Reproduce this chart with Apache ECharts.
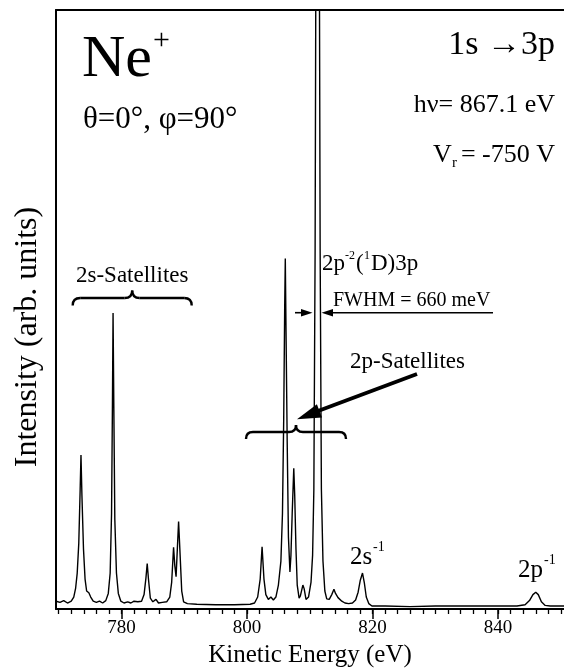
<!DOCTYPE html>
<html>
<head>
<meta charset="utf-8">
<script src="https://cdn.jsdelivr.net/npm/echarts@6/dist/echarts.min.js"></script>
<style>
html, body { margin: 0; padding: 0; background: #fff; }
#chart { width: 564px; height: 669px; }
</style>
</head>
<body>
<div id="chart"></div>
<script>
// spectrum: kinetic energy (eV) / intensity (arb. units, 0..100 = plot height)
const energy = [
    769.6, 770.2, 770.8, 771.4, 772.0, 772.4, 772.7, 772.95, 773.2, 773.42, 773.55, 773.7, 773.95, 774.2, 774.45,
    774.8, 775.1, 775.5, 776.0, 776.5, 777.0, 777.5, 777.9, 778.2, 778.42, 778.56, 778.66, 778.78, 778.94, 779.2,
    779.5, 779.9, 780.4, 781.0, 781.5, 782.0, 782.3, 782.6, 783.2, 783.6, 783.9, 784.1, 784.3, 784.6, 785.0,
    785.5, 785.9, 786.5, 787.2, 787.7, 788.0, 788.3, 788.5, 788.7, 788.9, 789.1, 789.3, 789.6, 789.9, 790.5,
    792, 795, 798, 800.5, 801.2, 801.7, 802.1, 802.4, 802.7, 803.0, 803.4, 803.8, 804.2, 804.6, 805.0,
    805.4, 805.65, 805.85, 806.0, 806.1, 806.22, 806.4, 806.6, 806.84, 807.0, 807.2, 807.45, 807.6, 807.8, 808.0,
    808.3, 808.5, 808.9, 809.1, 809.4, 809.8, 810.2, 810.45, 810.65, 810.85, 811.0, 811.25, 811.5, 811.65, 811.85,
    812.1, 812.4, 812.7, 813.1, 813.5, 813.85, 814.1, 814.5, 815.1, 815.6, 816.2, 816.8, 817.3, 817.7, 818.05,
    818.4, 818.7, 819.0, 819.4, 819.9, 822, 826, 830, 835, 840, 843, 844.3, 845.0, 845.55, 846.0,
    846.4, 846.9, 847.5, 848.3, 850.5
];
const intensity = [
    1.3, 1.1, 1.4, 1.0, 1.3, 2.0, 3.5, 6, 11, 20, 25.7, 19, 10, 5, 3,
    2.7, 2.0, 1.3, 1.1, 1.3, 1.0, 1.4, 2.6, 6, 16, 34, 49.4, 34, 15, 6,
    2.6, 1.3, 1.0, 1.2, 1.0, 1.3, 1.6, 1.2, 1.3, 2.4, 5.2, 7.6, 5.0, 1.8, 1.2,
    1.6, 1.0, 1.1, 1.2, 2.0, 4.5, 10.3, 7.2, 5.4, 10, 14.6, 10, 3, 1.2, 0.9,
    0.8, 0.7, 0.7, 0.8, 1.0, 2.0, 5, 10.4, 5, 2.4, 1.6, 2.0, 1.5, 2.0, 4.0,
    8, 16, 32, 50, 58.5, 46, 28, 12, 6.2, 9, 16, 23.5, 19, 10, 4,
    1.8, 2.2, 4.0, 3.4, 1.6, 2.0, 4.5, 9, 20, 60, 120, 300, 120, 60, 20,
    8, 3, 1.7, 1.6, 2.4, 3.3, 2.6, 1.9, 1.3, 1.0, 0.9, 1.0, 1.5, 2.8, 4.8,
    6.0, 4.3, 2.0, 0.9, 0.5, 0.5, 0.4, 0.5, 0.5, 0.5, 0.5, 0.7, 1.4, 2.4, 2.8,
    2.4, 1.2, 0.6, 0.5, 0.5
];

const xMin = 769.57;
const xMax = 850.5;
const majorTicks = [780, 800, 820, 840];
const minorTicks = [
    770, 772, 774, 776, 778, 780, 782, 784, 786, 788, 790, 792, 794, 796, 798, 800, 802, 804, 806, 808, 810,
    812, 814, 816, 818, 820, 822, 824, 826, 828, 830, 832, 834, 836, 838, 840, 842, 844, 846, 848, 850
];

const serif = '"Liberation Serif", "DejaVu Serif", serif';

// 文字标注
function txt(x, y, text, size, align) {
    return {
        type: 'text', x: x, y: y, z: 10,
        style: {
            text: text, font: size + 'px ' + serif, fill: '#000',
            textAlign: align || 'left', align: align || 'left',
            textVerticalAlign: 'middle', verticalAlign: 'middle'
        }
    };
}

function seg(x1, y1, x2, y2, w) {
    return {
        type: 'line', z: 10,
        shape: { x1: x1, y1: y1, x2: x2, y2: y2 },
        style: { stroke: '#000', lineWidth: w }
    };
}

function curve(x1, y1, cx, cy, x2, y2, w) {
    return {
        type: 'bezierCurve', z: 10,
        shape: { x1: x1, y1: y1, cpx1: cx, cpy1: cy, x2: x2, y2: y2 },
        style: { stroke: '#000', lineWidth: w, fill: null }
    };
}

// horizontal curly brace, tip pointing up
function brace(x0, x1, y, h) {
    const cx = (x0 + x1) / 2;
    const w = 2.4;
    return [
        curve(x0, y + h, x0, y, x0 + h, y, w),
        seg(x0 + h, y, cx - h, y, w),
        curve(cx - h, y, cx, y, cx, y - h, w),
        curve(cx, y - h, cx, y, cx + h, y, w),
        seg(cx + h, y, x1 - h, y, w),
        curve(x1 - h, y, x1, y, x1, y + h, w)
    ];
}

function tri(points) {
    return { type: 'polygon', z: 10, shape: { points: points }, style: { fill: '#000' } };
}

const graphics = [
    txt(82, 60, 'Ne', 60),
    txt(153, 41, '+', 30),
    txt(83, 120, 'θ=0°, φ=90°', 31),
    txt(555, 45, '1s →3p', 34, 'right'),
    txt(555, 105, 'hν= 867.1 eV', 26, 'right'),
    txt(433, 155, 'V', 26),
    txt(452, 163, 'r', 15),
    txt(555, 155, '= -750 V', 26, 'right'),

    txt(76, 276, '2s-Satellites', 23),

    txt(322, 264, '2p', 23),
    txt(345, 256, '-2', 12),
    txt(356, 264, '(', 23),
    txt(364, 256, '1', 12),
    txt(371, 264, 'D)3p', 23),

    txt(333, 301, 'FWHM = 660 meV', 20),
    seg(295, 312.7, 305, 312.7, 1.6),
    tri([[312.5, 312.7], [301, 309], [301, 316.4]]),
    seg(493, 312.7, 330, 312.7, 1.6),
    tri([[321.5, 312.7], [333, 309], [333, 316.4]]),

    txt(350, 362, '2p-Satellites', 23),
    seg(417, 374, 318, 411, 4),
    tri([[297, 419.3], [322, 417.4], [316.9, 404.3]]),

    txt(350, 557, '2s', 25),
    txt(373, 547, '-1', 14),
    txt(518, 570, '2p', 25),
    txt(544, 560, '-1', 14),

    {
        type: 'text', x: 28, y: 337, rotation: Math.PI / 2, z: 10,
        style: {
            text: 'Intensity (arb. units)', font: '32px ' + serif, fill: '#000',
            textAlign: 'center', align: 'center', textVerticalAlign: 'middle', verticalAlign: 'middle'
        }
    }
].concat(brace(72.7, 191.7, 298, 7.5), brace(246, 346, 432, 7));

function init() {
    const chart = echarts.init(document.getElementById('chart'));
    const points = energy.map(function (e, i) { return [e, intensity[i]]; });

    chart.setOption({
        animation: false,
        backgroundColor: '#fff',
        grid: { left: 56, right: 0, top: 10, bottom: 60, containLabel: false, outerBoundsMode: 'none' },
        xAxis: [
            {
                type: 'value', min: xMin, max: xMax, position: 'bottom',
                axisLine: { show: true, lineStyle: { color: '#000', width: 2 } },
                axisTick: { show: true, customValues: majorTicks, length: 10, lineStyle: { color: '#000', width: 1.5 } },
                axisLabel: {
                    show: true, customValues: majorTicks, margin: 10,
                    color: '#000', fontSize: 19, fontFamily: serif
                },
                splitLine: { show: false },
                name: 'Kinetic Energy (eV)', nameLocation: 'middle', nameGap: 30,
                nameTextStyle: { color: '#000', fontSize: 25, fontFamily: serif }
            },
            {
                type: 'value', min: xMin, max: xMax, position: 'bottom',
                axisLine: { show: false },
                axisTick: { show: true, customValues: minorTicks, length: 5, lineStyle: { color: '#000', width: 1.3 } },
                axisLabel: { show: false },
                splitLine: { show: false }
            },
            {
                type: 'value', min: xMin, max: xMax, position: 'top',
                axisLine: { show: true, lineStyle: { color: '#000', width: 2 } },
                axisTick: { show: false },
                axisLabel: { show: false },
                splitLine: { show: false }
            }
        ],
        yAxis: {
            type: 'value', min: 0, max: 100,
            axisLine: { show: true, lineStyle: { color: '#000', width: 2 } },
            axisTick: { show: false },
            axisLabel: { show: false },
            splitLine: { show: false }
        },
        series: [{
            type: 'line',
            data: points,
            showSymbol: false,
            clip: true,
            lineStyle: { color: '#000', width: 1.4 }
        }],
        graphic: graphics
    });

    window.addEventListener('resize', function () { chart.resize(); });
}

window.addEventListener('DOMContentLoaded', init);
</script>
</body>
</html>
